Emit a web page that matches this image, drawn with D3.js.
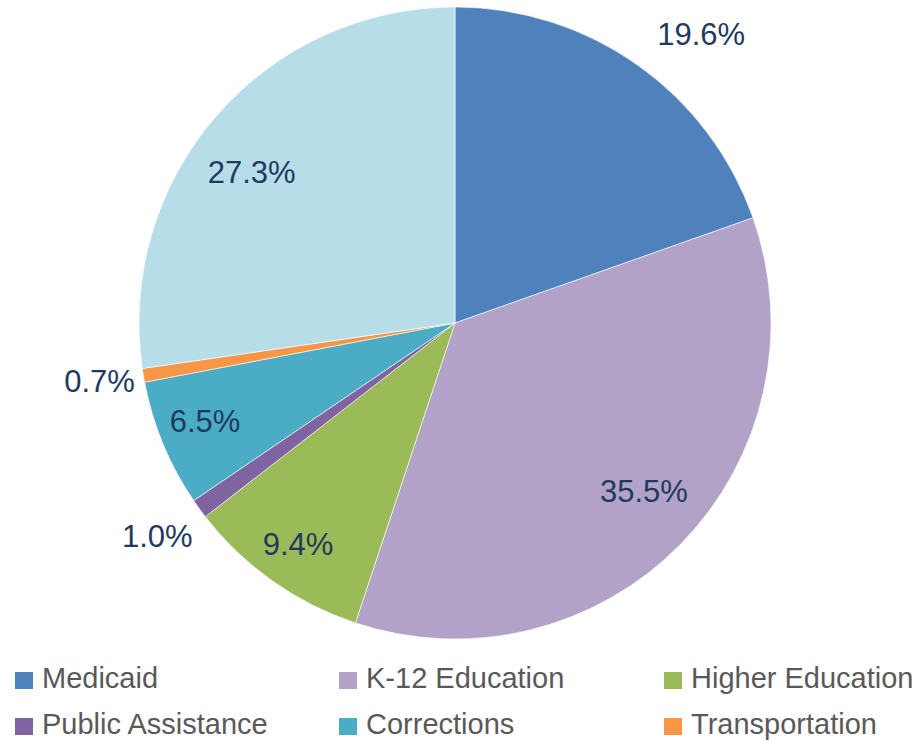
<!DOCTYPE html>
<html>
<head>
<meta charset="utf-8">
<script src="https://cdn.jsdelivr.net/npm/d3@7"></script>
<style>
  html, body { margin: 0; padding: 0; background: #fff; }
  svg { display: block; }
</style>
</head>
<body>
<svg id="chart" width="913" height="741"></svg>
<script>
// Budget shares by category (percent)
const categories = ["Medicaid", "K-12 Education", "Higher Education", "Public Assistance", "Corrections", "Transportation", "Other"];
const shares = [19.6, 35.5, 9.4, 1.0, 6.5, 0.7, 27.3];
const legendItems = ["Medicaid", "K-12 Education", "Higher Education", "Public Assistance", "Corrections", "Transportation"];

const palette = ["#4F81BD", "#B2A2C7", "#9BBB59", "#8064A2", "#4BACC6", "#F79646", "#B7DEE8"];

// Label placement around each slice: radius as a fraction of R, angular nudge in degrees
const labelRadius = [1.20, 0.80, 0.86, 1.16, 0.85, 1.14, 0.80];
const labelNudge = [5.2, -2.8, 0, 0.3, 1, 0.2, -4.4];

const svg = d3.select("#chart");
const cx = 455, cy = 323, R = 316;

const color = d3.scaleOrdinal().domain(categories).range(palette);

const pie = d3.pie().sort(null).value(d => d.value);
const data = categories.map((c, i) => ({ name: c, value: shares[i] }));
const arcs = pie(data);
const arc = d3.arc().innerRadius(0).outerRadius(R);

const g = svg.append("g").attr("transform", `translate(${cx},${cy})`);

g.selectAll("path.slice")
  .data(arcs)
  .join("path")
  .attr("class", "slice")
  .attr("d", arc)
  .attr("fill", d => color(d.data.name))
  .attr("stroke", "#ffffff")
  .attr("stroke-width", 0.6);

g.selectAll("text.pct")
  .data(arcs)
  .join("text")
  .attr("class", "pct")
  .attr("transform", (d, i) => {
    const a = (d.startAngle + d.endAngle) / 2 + labelNudge[i] * Math.PI / 180;
    const r = R * labelRadius[i];
    return `translate(${r * Math.sin(a)},${-r * Math.cos(a)})`;
  })
  .attr("text-anchor", "middle")
  .attr("dominant-baseline", "central")
  .attr("font-family", "'Liberation Sans', Arial, sans-serif")
  .attr("font-size", 31)
  .attr("fill", "#1F3A60")
  .text(d => d.data.value.toFixed(1) + "%");

// Legend: three columns, two rows
const colX = [15, 339, 664];
const rowY = [672, 718];
const legend = svg.append("g");
const items = legend.selectAll("g.item")
  .data(legendItems)
  .join("g")
  .attr("class", "item")
  .attr("transform", (d, i) => `translate(${colX[i % 3]},${rowY[Math.floor(i / 3)]})`);

items.append("rect")
  .attr("width", 18)
  .attr("height", 17)
  .attr("fill", d => color(d));

items.append("text")
  .attr("x", 27)
  .attr("y", 16)
  .attr("font-family", "'Liberation Sans', Arial, sans-serif")
  .attr("font-size", 29)
  .attr("fill", "#595959")
  .text(d => d);
</script>
</body>
</html>
